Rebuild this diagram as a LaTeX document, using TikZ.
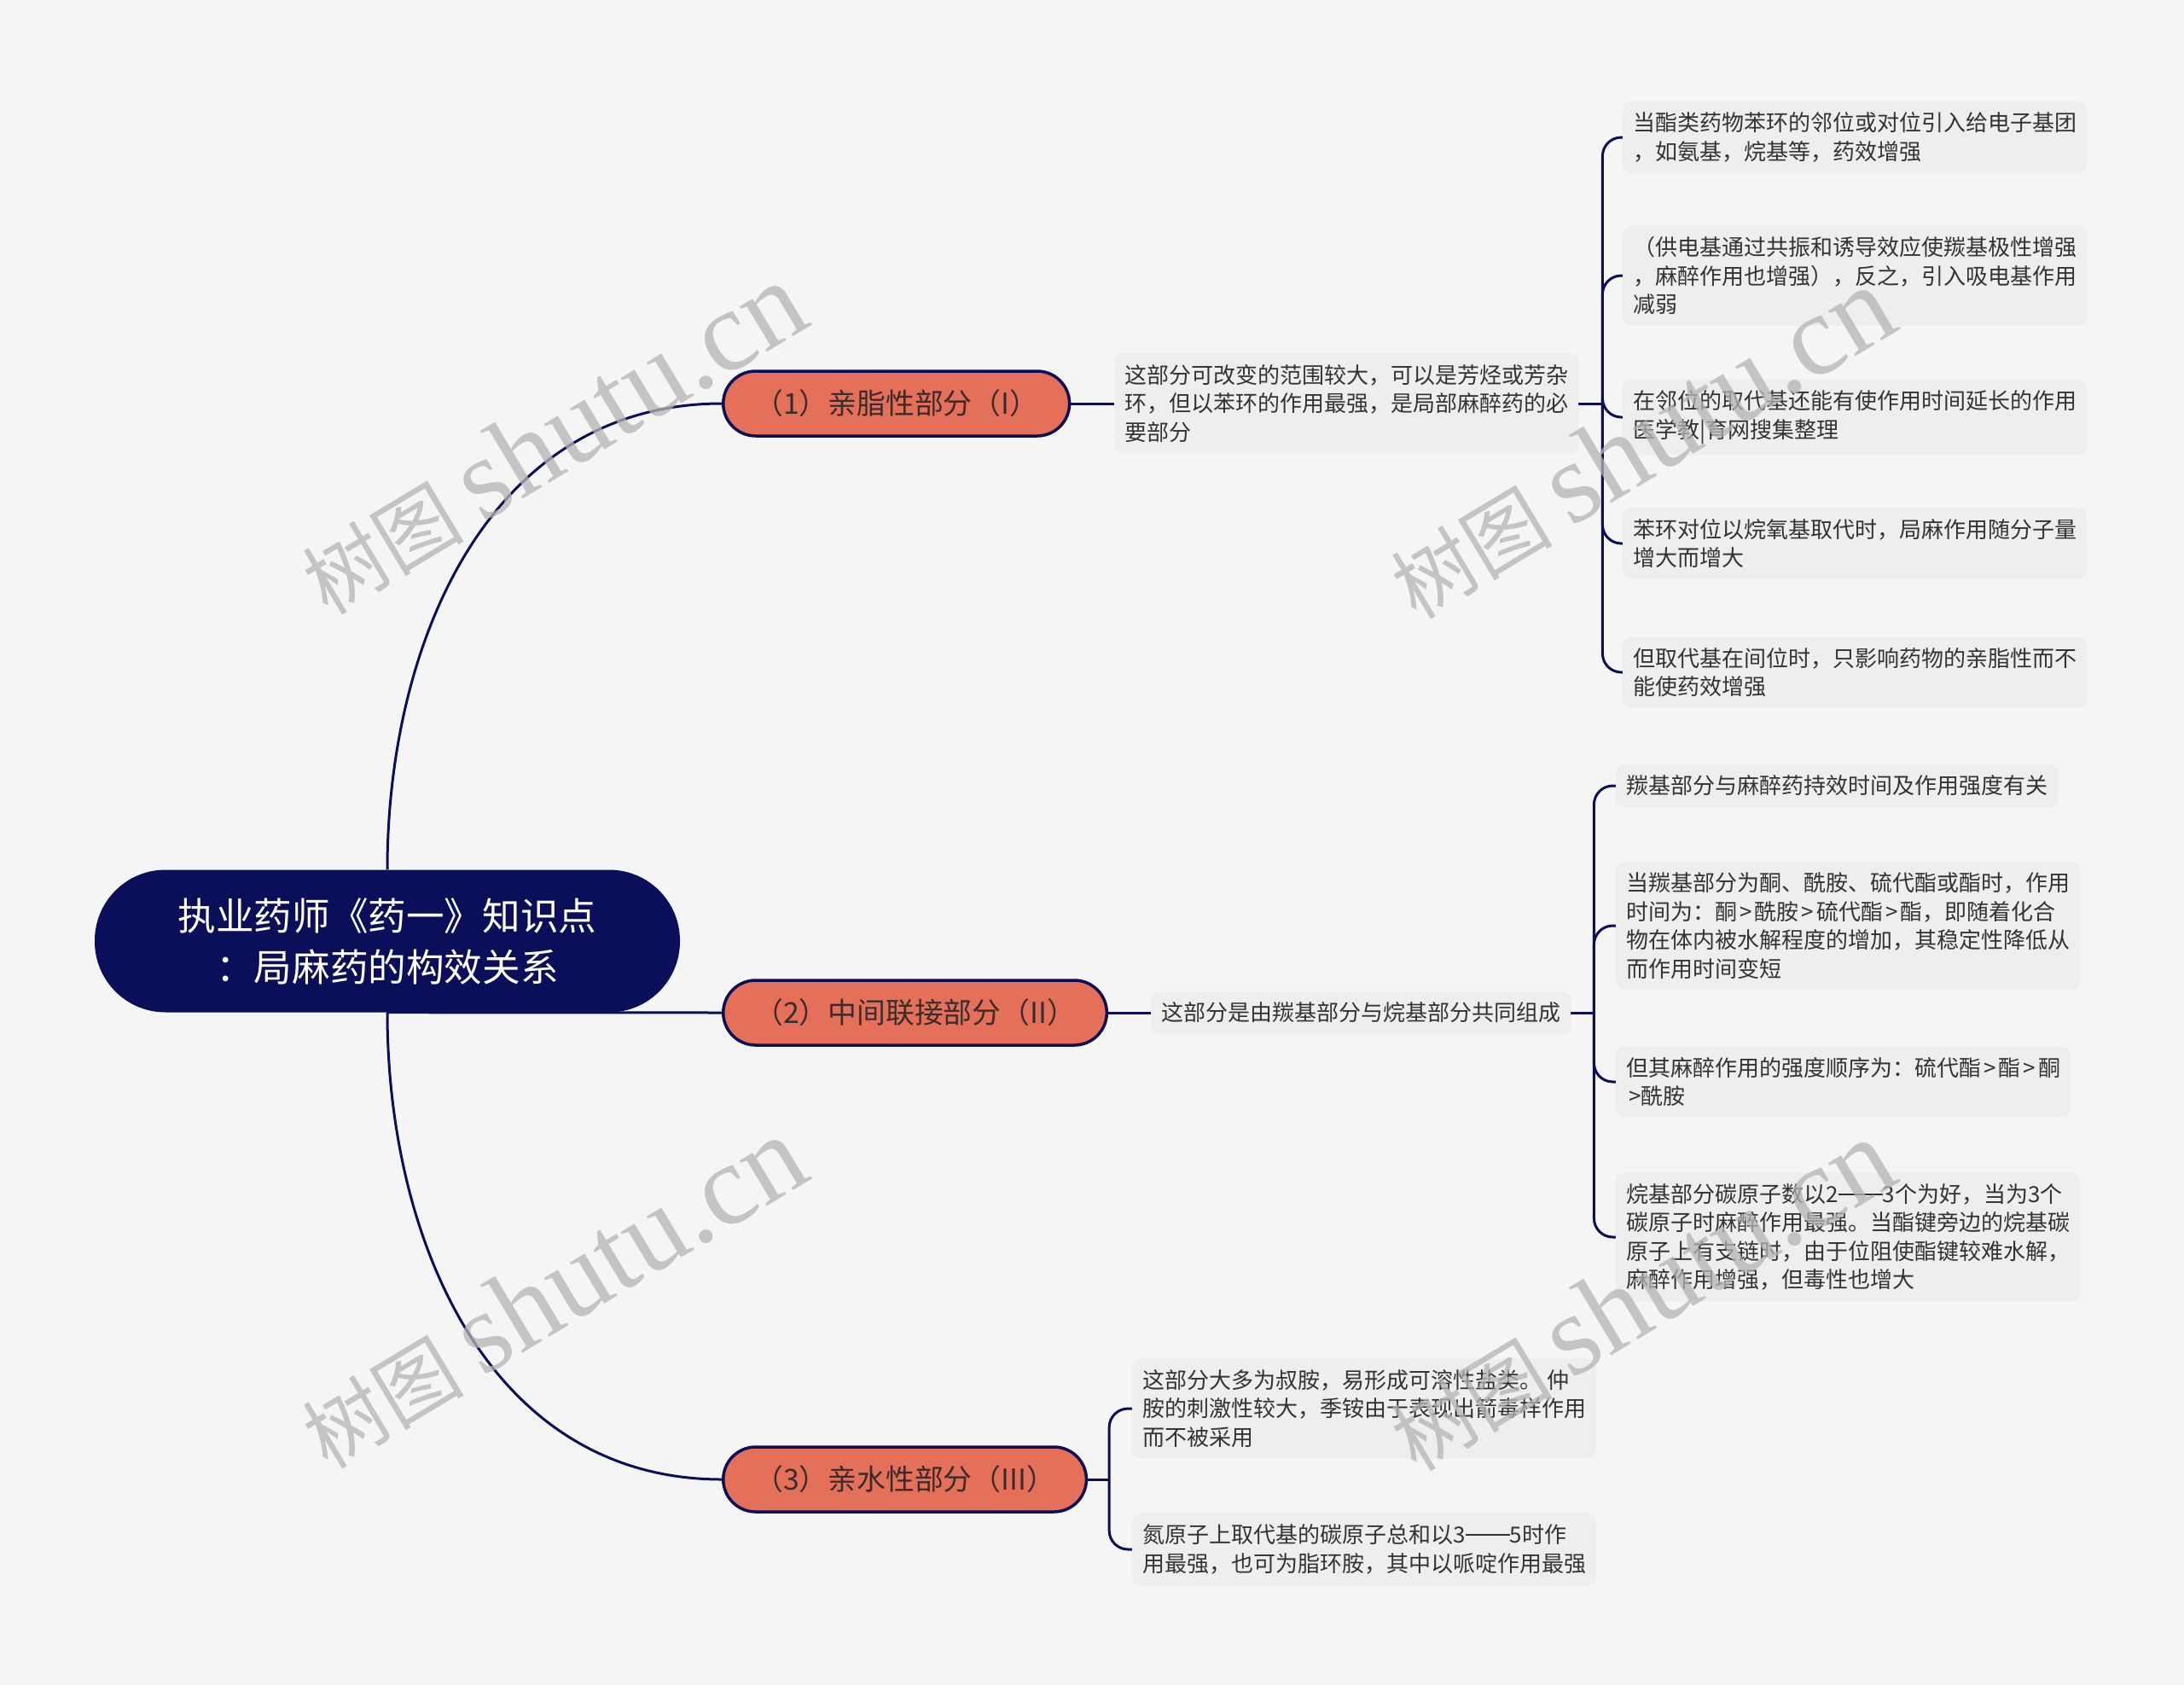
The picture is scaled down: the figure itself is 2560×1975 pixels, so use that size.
\documentclass[tikz,border=0pt]{standalone}
\usepackage{fontspec}
\setmainfont{Noto Sans CJK SC}
\newfontfamily\wmserif{Liberation Serif}
\usetikzlibrary{positioning}

\definecolor{bgcol}{HTML}{F5F5F5}
\definecolor{navy}{HTML}{0B0E58}
\definecolor{coral}{HTML}{E4705A}
\definecolor{partcol}{HTML}{3A2C2C}
\definecolor{boxcol}{HTML}{EEEEEE}
\definecolor{txtcol}{HTML}{333333}
\definecolor{wmcol}{HTML}{B4B4B4}

\newcommand{\gtr}{\kern3pt>\kern3pt}
\newcommand{\dashes}{\rule[0.33em]{2em}{0.07em}}

\pgfdeclarelayer{bg}
\pgfdeclarelayer{edges}
\pgfsetlayers{bg,edges,main}

\begin{document}
\begin{tikzpicture}[x=1pt,y=-1pt,
  rootnode/.style={fill=navy,text=white,rounded corners=83pt,minimum width=686pt,
    minimum height=167pt,align=center,font=\fontsize{44.6pt}{60pt}\selectfont},
  part/.style={fill=coral,draw=navy,line width=3.5pt,rounded corners=38pt,
    minimum height=76pt,inner xsep=36.5pt,anchor=west,text=partcol,
    font=\fontsize{33.8pt}{40pt}\selectfont},
  note/.style={fill=boxcol,rounded corners=10pt,inner xsep=12pt,inner ysep=13pt,
    anchor=west,align=left,text=txtcol,font=\fontsize{26pt}{33.5pt}\selectfont},
  link/.style={draw=navy,line width=3pt},
  wm/.style={text=wmcol,text opacity=0.75,rotate=31,font=\fontsize{95pt}{95pt}\selectfont}]

  \useasboundingbox (0,0) rectangle (2560,1975);
  \begin{pgfonlayer}{bg}
    \fill[bgcol] (0,0) rectangle (2560,1975);
  \end{pgfonlayer}

  % centre topic
  \node[rootnode] (root) at (454,1103) {执业药师《药一》知识点\\：局麻药的构效关系};

  % three parts
  \node[part] (p1) at (846,473) {（1）亲脂性部分（I）};
  \node[part] (p2) at (846,1187) {（2）中间联接部分（II）};
  \node[part] (p3) at (846,1734) {（3）亲水性部分（III）};

  \node[note] (s1) at (1306,473) {这部分可改变的范围较大，可以是芳烃或芳杂\\环，但以苯环的作用最强，是局部麻醉药的必\\要部分};
  \node[note] (s2) at (1349,1187) {这部分是由羰基部分与烷基部分共同组成};

  \coordinate[right=28pt of s1] (j1);
  \coordinate[right=27pt of s2] (j2);
  \coordinate[right=25pt of p3] (j3);

  % lipophilic part
  \node[note] (a1) at (1902,161) {当酯类药物苯环的邻位或对位引入给电子基团\\，如氨基，烷基等，药效增强};
  \node[note] (a2) at (1902,323) {（供电基通过共振和诱导效应使羰基极性增强\\，麻醉作用也增强），反之，引入吸电基作用\\减弱};
  \node[note] (a3) at (1902,489) {在邻位的取代基还能有使作用时间延长的作用\\医学教|育网搜集整理};
  \node[note] (a4) at (1902,637) {苯环对位以烷氧基取代时，局麻作用随分子量\\增大而增大};
  \node[note] (a5) at (1902,788) {但取代基在间位时，只影响药物的亲脂性而不\\能使药效增强};

  % linking part
  \node[note] (m1) at (1894,921) {羰基部分与麻醉药持效时间及作用强度有关};
  \node[note] (m2) at (1894,1085) {当羰基部分为酮、酰胺、硫代酯或酯时，作用\\时间为：酮\gtr 酰胺\gtr 硫代酯\gtr 酯，即随着化合\\物在体内被水解程度的增加，其稳定性降低从\\而作用时间变短};
  \node[note] (m3) at (1894,1268) {但其麻醉作用的强度顺序为：硫代酯\gtr 酯\gtr 酮\\\kern3pt>酰胺};
  \node[note] (m4) at (1894,1450) {烷基部分碳原子数以2\dashes 3个为好，当为3个\\碳原子时麻醉作用最强。当酯键旁边的烷基碳\\原子上有支链时，由于位阻使酯键较难水解，\\麻醉作用增强，但毒性也增大};

  % hydrophilic part
  \node[note] (h1) at (1327,1651) {这部分大多为叔胺，易形成可溶性盐类。 仲\\胺的刺激性较大，季铵由于表现出箭毒样作用\\而不被采用};
  \node[note] (h2) at (1327,1816) {氮原子上取代基的碳原子总和以3\dashes 5时作\\用最强，也可为脂环胺，其中以哌啶作用最强};

  \begin{pgfonlayer}{edges}
    \draw[link] (root.north) .. controls +(0,-263) and +(-275,0) .. (p1.west);
    \draw[link] (root.south) -- (p2.west);
    \draw[link] (root.south) .. controls +(0,263) and +(-275,0) .. (p3.west);
    \draw[link] (p1.east) -- (s1.west);
    \draw[link] (s1.east) -- (j1);
    \draw[link] (p2.east) -- (s2.west);
    \draw[link] (s2.east) -- (j2);
    \draw[link] (p3.east) -- (j3);
    \foreach \n in {a1,a2,a3,a4,a5}
      \draw[link,rounded corners=22pt] (j1) |- (\n.west);
    \foreach \n in {m1,m2,m3,m4}
      \draw[link,rounded corners=22pt] (j2) |- (\n.west);
    \foreach \n in {h1,h2}
      \draw[link,rounded corners=22pt] (j3) |- (\n.west);
  \end{pgfonlayer}

  % watermarks
  \foreach \p [count=\i] in {(647,514),(1923,519),(647,1515),(1923,1518)}
    \node[wm] (w\i) at \p {树图 {\wmserif\fontsize{135pt}{135pt}\selectfont shutu.cn}};
\end{tikzpicture}
\end{document}
